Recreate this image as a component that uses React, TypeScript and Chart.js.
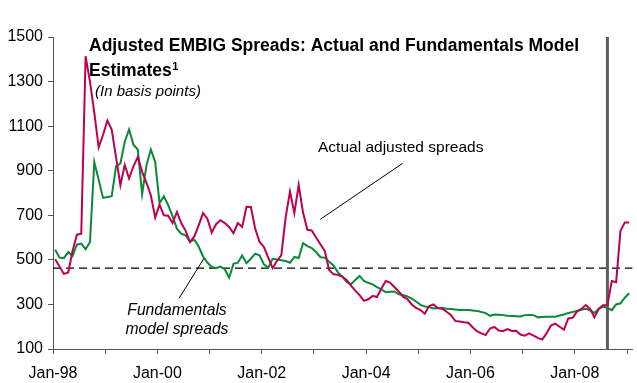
import React, { useEffect, useRef } from 'react';
import { Chart, registerables } from 'chart.js';

Chart.register(...registerables);

// Monthly data, Jan-1998 onwards (basis points)
const ACTUAL: number[] = [
  503, 470, 437, 443, 540, 613, 617, 1414, 1300, 1160,
  1005, 1060, 1125, 1085, 960, 835, 925, 865, 920, 962,
  895, 845, 790, 690, 748, 700, 698, 665, 715, 665,
  630, 580, 605, 655, 710, 685, 622, 660, 678, 665,
  648, 620, 665, 648, 738, 737, 640, 580, 558, 510,
  463, 495, 520, 690, 807, 710, 836, 712, 635, 632,
  600, 570, 540, 455, 435, 433, 425, 410, 385, 362,
  342, 316, 323, 338, 333, 370, 405, 398, 378, 358,
  335, 324, 300, 284, 275, 258, 293, 300, 283, 281,
  267, 253, 226, 223, 220, 218, 198, 180, 170, 163,
  192, 199, 183, 180, 189, 181, 182, 165, 160, 170,
  160, 150, 142, 170, 205, 214, 200, 187, 237, 240,
  268, 280, 297, 280, 242, 280, 296, 298, 405, 400,
  630, 668, 668,
];

const FUNDAMENTALS: number[] = [
  545, 510, 508, 535, 517, 568, 573, 548, 580, 938,
  860, 778, 782, 786, 920, 933, 1030, 1085, 1017, 995,
  795, 925, 995, 940, 755, 785, 745, 695, 640, 617,
  610, 582, 590, 560, 515, 488, 468, 463, 470, 458,
  420, 482, 487, 520, 485, 505, 528, 520, 480, 465,
  505, 502, 498, 495, 487, 513, 508, 575, 562, 553,
  535, 512, 510, 492, 475, 445, 425, 402, 390, 410,
  428, 405, 397, 390, 378, 368, 355, 357, 358, 345,
  342, 336, 326, 313, 298, 291, 288, 282, 284, 285,
  281, 279, 277, 275, 275, 275, 273, 271, 266, 261,
  249, 255, 254, 252, 249, 248, 247, 246, 252, 253,
  252, 242, 244, 245, 245, 245, 250, 255, 262, 266,
  271, 276, 280, 274, 262, 280, 290, 284, 274, 300,
  305, 330, 350,
];

const X_TICK_MONTHS: number[] = [0, 12, 24, 36, 48, 60, 72, 84, 96, 108, 120, 132];
const X_TICK_LABELS: string[] = ['Jan-98', '', 'Jan-00', '', 'Jan-02', '', 'Jan-04', '', 'Jan-06', '', 'Jan-08', ''];
const Y_TICKS: number[] = [100, 300, 500, 700, 900, 1100, 1300, 1500];
const Y_MIN = 100;
const Y_MAX = 1500;
const X_MAX = 133.3;
const THRESHOLD = 463;
const EVENT_MONTH = 127.5;
const MID_MONTH = 0.5;

const RED = '#BE0050';
const GREEN = '#0A8A35';
const FONT = "'Liberation Sans', Arial, sans-serif";

export default function App() {
  const ref = useRef<HTMLCanvasElement>(null);

  useEffect(() => {
    const canvas = ref.current;
    if (!canvas) return;

    const annotations = {
      id: 'annotations',
      afterDraw(chart: any) {
        const ctx = chart.ctx as CanvasRenderingContext2D;
        ctx.save();
        ctx.fillStyle = '#000';
        ctx.textBaseline = 'alphabetic';
        ctx.textAlign = 'left';
        ctx.font = `bold 17.5px ${FONT}`;
        ctx.fillText('Adjusted EMBIG Spreads: Actual and Fundamentals Model', 89, 51);
        ctx.fillText('Estimates', 89, 76);
        const w = ctx.measureText('Estimates').width;
        ctx.font = `bold 11px ${FONT}`;
        ctx.fillText('1', 89 + w + 0.5, 70);
        ctx.font = `italic 15px ${FONT}`;
        ctx.fillText('(In basis points)', 95, 95.5);
        ctx.font = `15.5px ${FONT}`;
        ctx.fillText('Actual adjusted spreads', 318, 151.5);
        ctx.font = `italic 15.7px ${FONT}`;
        ctx.textAlign = 'center';
        ctx.fillText('Fundamentals', 177, 314.5);
        ctx.fillText('model spreads', 177, 333.5);
        ctx.strokeStyle = '#000';
        ctx.lineWidth = 1;
        ctx.beginPath();
        ctx.moveTo(402.7, 163.3);
        ctx.lineTo(320.3, 219.3);
        ctx.moveTo(179, 298.3);
        ctx.lineTo(204, 258.3);
        ctx.stroke();
        ctx.restore();
      },
    };

    const chart = new Chart(canvas, {
      type: 'line',
      data: {
        datasets: [
          {
            label: 'Actual adjusted spreads',
            data: ACTUAL.map((v, i) => ({ x: i + MID_MONTH, y: v })),
            borderColor: RED,
            borderWidth: 2,
            pointRadius: 0,
            tension: 0,
          },
          {
            label: 'Event',
            data: [
              { x: EVENT_MONTH, y: Y_MIN },
              { x: EVENT_MONTH, y: Y_MAX },
            ],
            borderColor: '#5e5e5e',
            borderWidth: 3,
            pointRadius: 0,
          },
          {
            label: 'Fundamentals model spreads',
            data: FUNDAMENTALS.map((v, i) => ({ x: i + MID_MONTH, y: v })),
            borderColor: GREEN,
            borderWidth: 2,
            pointRadius: 0,
            tension: 0,
          },
          {
            label: 'Threshold',
            data: [
              { x: 0, y: THRESHOLD },
              { x: X_MAX, y: THRESHOLD },
            ],
            borderColor: '#000',
            borderWidth: 1.4,
            borderDash: [8, 5],
            pointRadius: 0,
          },
        ],
      },
      options: {
        responsive: false,
        maintainAspectRatio: false,
        animation: false,
        layout: { padding: { top: 37, right: 0, left: 0, bottom: 0 } },
        plugins: {
          legend: { display: false },
          tooltip: { enabled: false },
          title: { display: false },
        },
        scales: {
          x: {
            type: 'linear',
            min: 0,
            max: X_MAX,
            afterBuildTicks: (s: any) => {
              s.ticks = X_TICK_MONTHS.map((v) => ({ value: v }));
            },
            afterFit: (s: any) => {
              s.height = 34;
            },
            ticks: {
              callback: (_v: any, idx: number) => X_TICK_LABELS[idx],
              font: { family: FONT, size: 16 },
              color: '#000',
              maxRotation: 0,
              autoSkip: false,
              padding: 10,
            },
            grid: { drawOnChartArea: false, tickLength: 5, color: '#555' },
            border: { color: '#555' },
          },
          y: {
            min: Y_MIN,
            max: Y_MAX,
            afterBuildTicks: (s: any) => {
              s.ticks = Y_TICKS.map((v) => ({ value: v }));
            },
            afterFit: (s: any) => {
              s.width = 53;
            },
            ticks: {
              callback: (v: any) => String(v),
              font: { family: FONT, size: 16 },
              color: '#000',
              padding: 5,
            },
            grid: { drawOnChartArea: false, tickLength: 5, color: '#555' },
            border: { color: '#555' },
          },
        },
      },
      plugins: [annotations],
    });

    return () => chart.destroy();
  }, []);

  return (
    <div style={{ position: 'absolute', left: 0, top: 0, width: 637, height: 383, background: '#fff' }}>
      <canvas ref={ref} width={637} height={383} style={{ width: 637, height: 383 }} />
    </div>
  );
}
